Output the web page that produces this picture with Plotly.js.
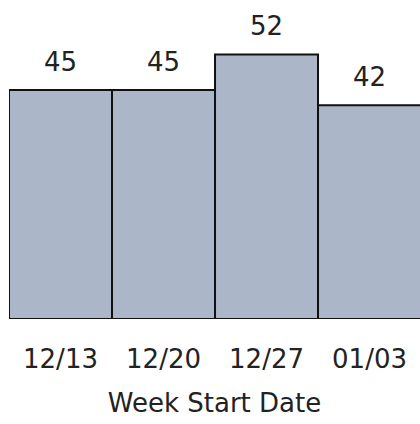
<!DOCTYPE html>
<html>
<head>
<meta charset="utf-8">
<script src="https://cdn.plot.ly/plotly-3.0.1.min.js"></script>
<style>html,body{margin:0;padding:0;background:#fff;}#chart{width:420px;height:424px;}</style>
</head>
<body>
<div id="chart"></div>
<script>
var weeks = ["12/13", "12/20", "12/27", "01/03"];
var counts = [45, 45, 52, 42];
var xTitle = "Week Start Date";

var FONT = "DejaVu Sans, sans-serif";

var trace = {
  type: "bar",
  x: weeks,
  y: counts,
  marker: {color: "#acb6c9", line: {color: "#111111", width: 2}},
  hoverinfo: "none"
};

var annotations = weeks.map(function (w, i) {
  return {
    x: w, y: counts[i], xref: "x", yref: "y",
    text: String(counts[i]), showarrow: false,
    yanchor: "bottom", yshift: 11,
    font: {family: FONT, size: 26, color: "#222222"}
  };
});

var layout = {
  width: 420, height: 424,
  margin: {l: 9, r: 0, t: 0, b: 105},
  paper_bgcolor: "#ffffff", plot_bgcolor: "#ffffff",
  bargap: 0,
  showlegend: false,
  xaxis: {
    type: "category",
    range: [-0.5, 3.49],
    showgrid: false, zeroline: false, showline: false,
    ticks: "", ticklabelstandoff: 22,
    tickfont: {family: FONT, size: 26, color: "#222222"},
    title: {text: xTitle, font: {family: FONT, size: 26, color: "#222222"}, standoff: 20},
    automargin: false,
    fixedrange: true
  },
  yaxis: {
    range: [0, 62.7],
    visible: false,
    showgrid: false, zeroline: false,
    fixedrange: true
  },
  annotations: annotations
};

Plotly.newPlot("chart", [trace], layout, {displayModeBar: false, staticPlot: true});
</script>
</body>
</html>
